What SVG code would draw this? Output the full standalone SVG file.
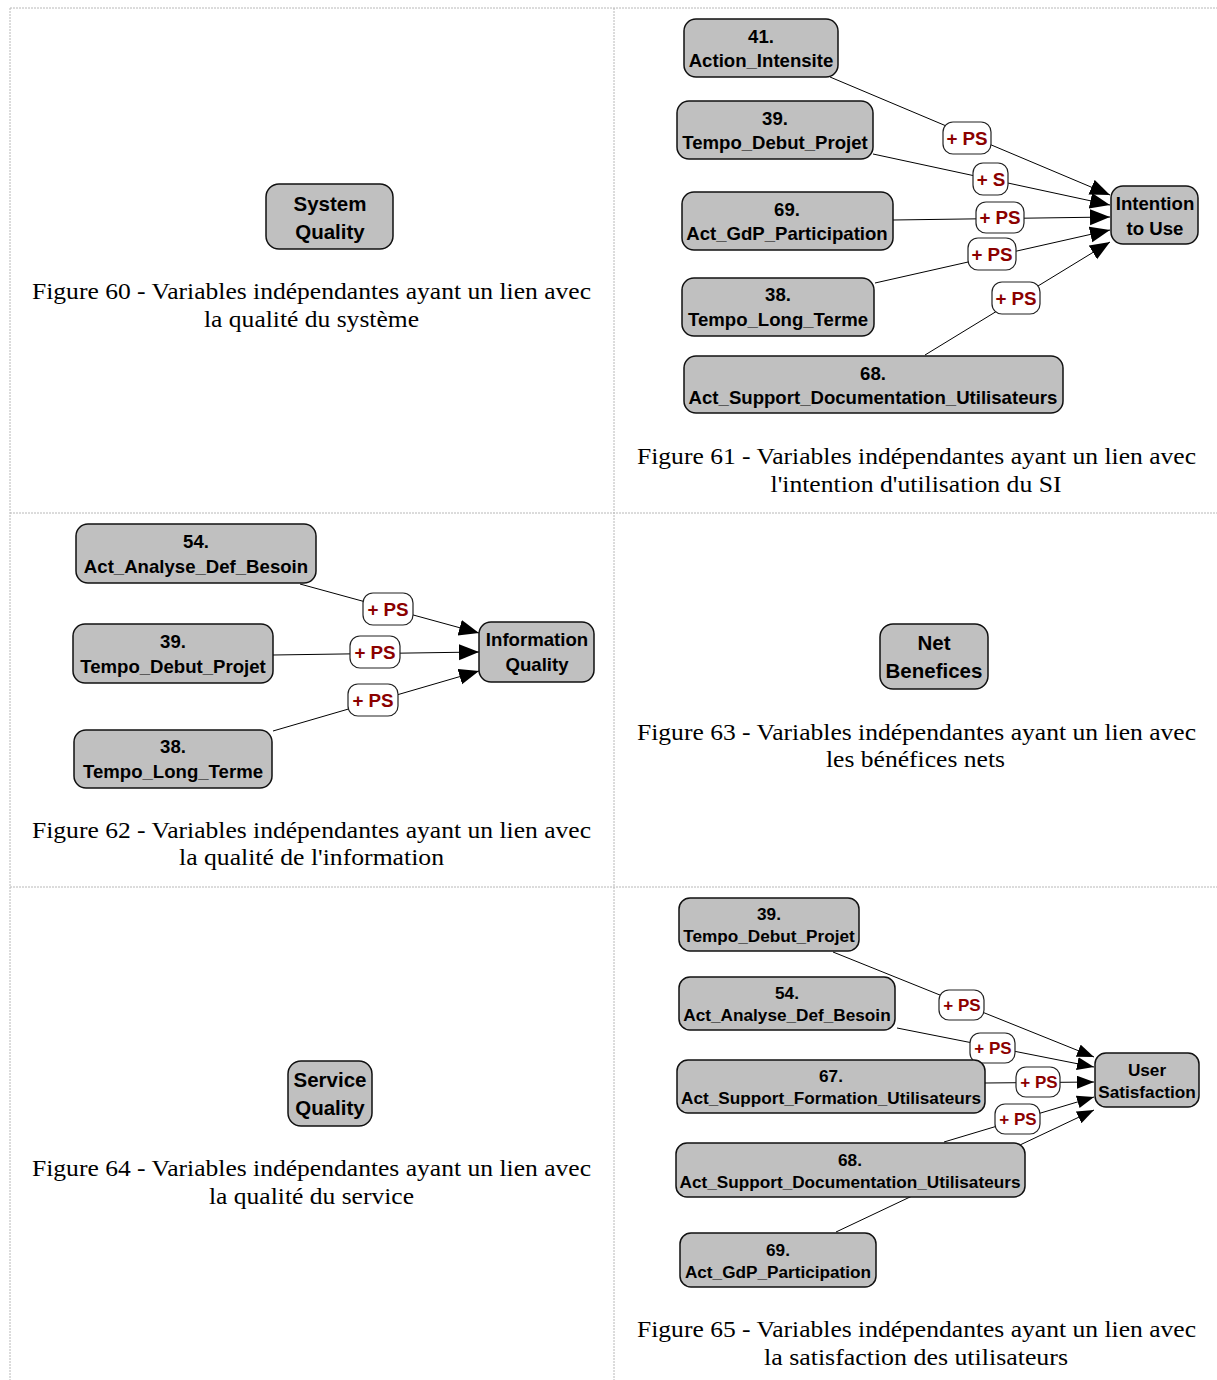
<svg xmlns="http://www.w3.org/2000/svg" width="1217" height="1380" viewBox="0 0 1217 1380">
<style>
.grid{stroke:#b8b8b8;stroke-width:1;stroke-dasharray:2 1;fill:none}
.node rect{fill:#c0c0c0;stroke:#111;stroke-width:1.5}
.node text{font-family:"Liberation Sans",Arial,sans-serif;font-weight:bold;font-size:18.6px;fill:#000;text-anchor:middle}
.big text{font-size:20.5px}
.sm text{font-size:17.2px}
.edge{stroke:#000;stroke-width:1;fill:none}
.lbl rect{fill:#fff;stroke:#222;stroke-width:1.2}
.lbl text{font-family:"Liberation Sans",Arial,sans-serif;font-weight:bold;font-size:18.8px;fill:#8b0000;text-anchor:middle}
.lbls text{font-size:17px}
.cap{font-family:"Liberation Serif","Times New Roman",serif;font-size:23.5px;fill:#000;text-anchor:middle}
</style>
<defs>
<marker id="ah" markerUnits="userSpaceOnUse" markerWidth="22" markerHeight="18" refX="20" refY="8" orient="auto"><path d="M0,0 L20,8 L0,16 Z" fill="#000"/></marker>
<marker id="ahs" markerUnits="userSpaceOnUse" markerWidth="19" markerHeight="15" refX="17" refY="6.5" orient="auto"><path d="M0,0 L17,6.5 L0,13 Z" fill="#000"/></marker>
</defs>
<rect width="1217" height="1380" fill="#fff"/>
<g id="grid">
<line class="grid" x1="10" y1="8" x2="1217" y2="8"/>
<line class="grid" x1="10" y1="8" x2="10" y2="1380"/>
<line class="grid" x1="614" y1="8" x2="614" y2="1380"/>
<line class="grid" x1="10" y1="513" x2="1217" y2="513"/>
<line class="grid" x1="10" y1="887" x2="1217" y2="887"/>
</g>
<g id="connectors">
<line class="edge" x1="830" y1="77" x2="1110" y2="195" marker-end="url(#ah)"/>
<line class="edge" x1="873" y1="154" x2="1110" y2="205" marker-end="url(#ah)"/>
<line class="edge" x1="893" y1="220" x2="1110" y2="217" marker-end="url(#ah)"/>
<line class="edge" x1="875" y1="283" x2="1110" y2="230" marker-end="url(#ah)"/>
<line class="edge" x1="925" y1="355" x2="1110" y2="242" marker-end="url(#ah)"/>
<line class="edge" x1="300" y1="584" x2="479" y2="633" marker-end="url(#ah)"/>
<line class="edge" x1="273" y1="655" x2="479" y2="652" marker-end="url(#ah)"/>
<line class="edge" x1="273" y1="731" x2="479" y2="671" marker-end="url(#ah)"/>
<line class="edge" x1="833" y1="952" x2="1094" y2="1057" marker-end="url(#ahs)"/>
<line class="edge" x1="897" y1="1028" x2="1094" y2="1067" marker-end="url(#ahs)"/>
<line class="edge" x1="985" y1="1083" x2="1094" y2="1082" marker-end="url(#ahs)"/>
<line class="edge" x1="944" y1="1142" x2="1094" y2="1097" marker-end="url(#ahs)"/>
<line class="edge" x1="836" y1="1232" x2="1094" y2="1110" marker-end="url(#ahs)"/>
</g>
<g id="labels">
<g class="lbl"><rect x="943" y="122" width="48" height="32" rx="10"/><text x="967" y="144.5">+ PS</text></g>
<g class="lbl"><rect x="973" y="163" width="35" height="32" rx="10"/><text x="991" y="185.5">+ S</text></g>
<g class="lbl"><rect x="976" y="202" width="48" height="31" rx="10"/><text x="1000" y="224">+ PS</text></g>
<g class="lbl"><rect x="968" y="238" width="48" height="32" rx="10"/><text x="992" y="260.5">+ PS</text></g>
<g class="lbl"><rect x="992" y="282" width="48" height="32" rx="10"/><text x="1016" y="304.5">+ PS</text></g>
<g class="lbl"><rect x="363" y="593" width="50" height="32" rx="10"/><text x="388" y="615.5">+ PS</text></g>
<g class="lbl"><rect x="350" y="636" width="50" height="32" rx="10"/><text x="375" y="658.5">+ PS</text></g>
<g class="lbl"><rect x="348" y="684" width="50" height="32" rx="10"/><text x="373" y="706.5">+ PS</text></g>
<g class="lbl lbls"><rect x="939" y="990" width="45" height="30" rx="10"/><text x="962" y="1011">+ PS</text></g>
<g class="lbl lbls"><rect x="970" y="1033" width="45" height="30" rx="10"/><text x="993" y="1054">+ PS</text></g>
<g class="lbl lbls"><rect x="1016" y="1067" width="44" height="30" rx="10"/><text x="1039" y="1088">+ PS</text></g>
<g class="lbl lbls"><rect x="995" y="1104" width="45" height="30" rx="10"/><text x="1018" y="1125">+ PS</text></g>
</g>
<g id="n-system-quality" class="node big"><rect x="266" y="184" width="127" height="65" rx="13"/><text x="330" y="211">System</text><text x="330" y="239">Quality</text></g>
<g id="n2-41" class="node"><rect x="684" y="19" width="154" height="58" rx="12"/><text x="761" y="43">41.</text><text x="761" y="67">Action_Intensite</text></g>
<g id="n2-39" class="node"><rect x="677" y="101" width="196" height="58" rx="12"/><text x="775" y="125">39.</text><text x="775" y="149">Tempo_Debut_Projet</text></g>
<g id="n2-69" class="node"><rect x="682" y="192" width="211" height="58" rx="12"/><text x="787" y="216">69.</text><text x="787" y="240">Act_GdP_Participation</text></g>
<g id="n2-38" class="node"><rect x="682" y="278" width="192" height="58" rx="12"/><text x="778" y="301">38.</text><text x="778" y="326">Tempo_Long_Terme</text></g>
<g id="n2-68" class="node"><rect x="684" y="356" width="379" height="57" rx="12"/><text x="873" y="380">68.</text><text x="873" y="404">Act_Support_Documentation_Utilisateurs</text></g>
<g id="n2-intention" class="node"><rect x="1111" y="186" width="87" height="58" rx="12"/><text x="1155" y="210">Intention</text><text x="1155" y="235">to Use</text></g>
<g id="n3-54" class="node"><rect x="76" y="524" width="240" height="59" rx="12"/><text x="196" y="548">54.</text><text x="196" y="573">Act_Analyse_Def_Besoin</text></g>
<g id="n3-39" class="node"><rect x="73" y="624" width="200" height="59" rx="12"/><text x="173" y="648">39.</text><text x="173" y="673">Tempo_Debut_Projet</text></g>
<g id="n3-38" class="node"><rect x="74" y="730" width="198" height="58" rx="12"/><text x="173" y="753">38.</text><text x="173" y="778">Tempo_Long_Terme</text></g>
<g id="n3-info" class="node"><rect x="479" y="622" width="115" height="60" rx="12"/><text x="537" y="646">Information</text><text x="537" y="671">Quality</text></g>
<g id="n-net-benefices" class="node big"><rect x="880" y="624" width="108" height="65" rx="13"/><text x="934" y="650">Net</text><text x="934" y="678">Benefices</text></g>
<g id="n-service-quality" class="node big"><rect x="288" y="1061" width="84" height="65" rx="13"/><text x="330" y="1087">Service</text><text x="330" y="1115">Quality</text></g>
<g id="n6-39" class="node sm"><rect x="679" y="898" width="180" height="53" rx="11"/><text x="769" y="920">39.</text><text x="769" y="942">Tempo_Debut_Projet</text></g>
<g id="n6-54" class="node sm"><rect x="679" y="977" width="216" height="53" rx="11"/><text x="787" y="999">54.</text><text x="787" y="1021">Act_Analyse_Def_Besoin</text></g>
<g id="n6-67" class="node sm"><rect x="677" y="1060" width="308" height="53" rx="11"/><text x="831" y="1082">67.</text><text x="831" y="1104">Act_Support_Formation_Utilisateurs</text></g>
<g id="n6-68" class="node sm"><rect x="676" y="1143" width="349" height="54" rx="11"/><text x="850" y="1166">68.</text><text x="850" y="1188">Act_Support_Documentation_Utilisateurs</text></g>
<g id="n6-69" class="node sm"><rect x="680" y="1233" width="196" height="54" rx="11"/><text x="778" y="1256">69.</text><text x="778" y="1278">Act_GdP_Participation</text></g>
<g id="n6-user" class="node sm"><rect x="1095" y="1053" width="104" height="54" rx="11"/><text x="1147" y="1076">User</text><text x="1147" y="1098">Satisfaction</text></g>
<g id="captions">
<text class="cap" x="311.5" y="299" textLength="559" lengthAdjust="spacingAndGlyphs">Figure 60 - Variables indépendantes ayant un lien avec</text>
<text class="cap" x="311.5" y="327" textLength="215" lengthAdjust="spacingAndGlyphs">la qualité du système</text>
<text class="cap" x="916.5" y="464" textLength="559" lengthAdjust="spacingAndGlyphs">Figure 61 - Variables indépendantes ayant un lien avec</text>
<text class="cap" x="916" y="492" textLength="291" lengthAdjust="spacingAndGlyphs">l'intention d'utilisation du SI</text>
<text class="cap" x="311.5" y="838" textLength="559" lengthAdjust="spacingAndGlyphs">Figure 62 - Variables indépendantes ayant un lien avec</text>
<text class="cap" x="311.5" y="865" textLength="265" lengthAdjust="spacingAndGlyphs">la qualité de l'information</text>
<text class="cap" x="916.5" y="740" textLength="559" lengthAdjust="spacingAndGlyphs">Figure 63 - Variables indépendantes ayant un lien avec</text>
<text class="cap" x="915.5" y="767" textLength="179" lengthAdjust="spacingAndGlyphs">les bénéfices nets</text>
<text class="cap" x="311.5" y="1176" textLength="559" lengthAdjust="spacingAndGlyphs">Figure 64 - Variables indépendantes ayant un lien avec</text>
<text class="cap" x="311.5" y="1204" textLength="205" lengthAdjust="spacingAndGlyphs">la qualité du service</text>
<text class="cap" x="916.5" y="1337" textLength="559" lengthAdjust="spacingAndGlyphs">Figure 65 - Variables indépendantes ayant un lien avec</text>
<text class="cap" x="916" y="1365" textLength="304" lengthAdjust="spacingAndGlyphs">la satisfaction des utilisateurs</text>
</g>
</svg>
